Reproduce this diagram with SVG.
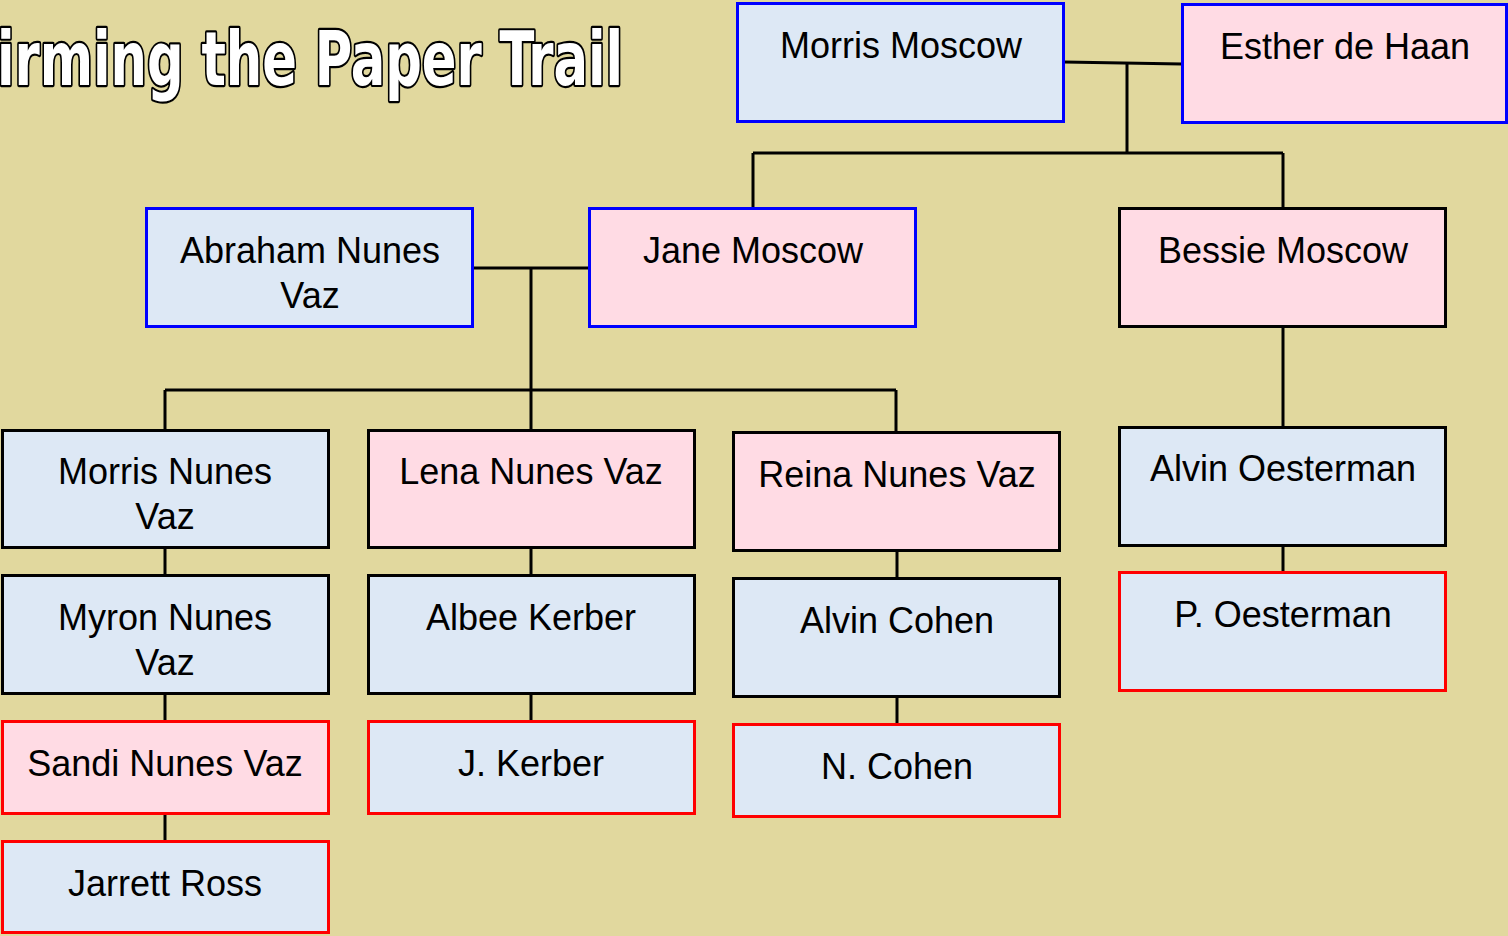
<svg xmlns="http://www.w3.org/2000/svg" width="1508" height="936" viewBox="0 0 1508 936">
<style>
.bg{fill:#e1d89e}
.n rect{stroke-width:3}
.m{fill:#dde8f5}
.f{fill:#ffdbe4}
.sb{stroke:#0000ff}
.sk{stroke:#000000}
.sr{stroke:#ff0000}
.n text{font-family:"Liberation Sans",Arial,sans-serif;font-size:36px;fill:#000;text-anchor:middle}
.c{stroke:#000;stroke-width:3;fill:none}
.title{font-family:"Liberation Sans Narrow","DejaVu Sans Condensed","Liberation Sans",sans-serif;font-weight:bold;font-size:70px;fill:#fff;stroke:#000;stroke-width:4;paint-order:stroke;stroke-linejoin:round}
</style>
<rect class="bg" x="0" y="0" width="1508" height="936"/>
<text class="title" x="-3" y="78.7" textLength="626" lengthAdjust="spacingAndGlyphs" transform="scale(1,1.08)">irming the Paper Trail</text>
<g id="connectors" class="c">
<path d="M1064 62 L1182 64"/>
<path d="M1127 63 V153 M753 153 H1283 M753 153 V208 M1283 153 V208"/>
<path d="M473 268 H589 M531 268 V430 M165 390 H896 M165 390 V430 M896 390 V432"/>
<path d="M1283 327 V427 M1283 546 V572"/>
<path d="M165 548 V575 M165 694 V721 M165 814 V841"/>
<path d="M531 548 V575 M531 694 V721"/>
<path d="M897 551 V578 M897 697 V724"/>
</g>
<g id="morris-moscow" class="n"><rect class="m sb" x="737.5" y="3.5" width="326" height="118"/><text x="901" y="58">Morris Moscow</text></g>
<g id="esther-de-haan" class="n"><rect class="f sb" x="1182.5" y="4.5" width="324" height="118"/><text x="1345" y="59">Esther de Haan</text></g>
<g id="abraham-nunes-vaz" class="n"><rect class="m sb" x="146.5" y="208.5" width="326" height="118"/><text x="310" y="263">Abraham Nunes</text><text x="310" y="308">Vaz</text></g>
<g id="jane-moscow" class="n"><rect class="f sb" x="589.5" y="208.5" width="326" height="118"/><text x="753" y="263">Jane Moscow</text></g>
<g id="bessie-moscow" class="n"><rect class="f sk" x="1119.5" y="208.5" width="326" height="118"/><text x="1283" y="263">Bessie Moscow</text></g>
<g id="morris-nunes-vaz" class="n"><rect class="m sk" x="2.5" y="430.5" width="326" height="117"/><text x="165" y="484">Morris Nunes</text><text x="165" y="529">Vaz</text></g>
<g id="lena-nunes-vaz" class="n"><rect class="f sk" x="368.5" y="430.5" width="326" height="117"/><text x="531" y="484">Lena Nunes Vaz</text></g>
<g id="reina-nunes-vaz" class="n"><rect class="f sk" x="733.5" y="432.5" width="326" height="118"/><text x="897" y="487">Reina Nunes Vaz</text></g>
<g id="alvin-oesterman" class="n"><rect class="m sk" x="1119.5" y="427.5" width="326" height="118"/><text x="1283" y="481">Alvin Oesterman</text></g>
<g id="myron-nunes-vaz" class="n"><rect class="m sk" x="2.5" y="575.5" width="326" height="118"/><text x="165" y="630">Myron Nunes</text><text x="165" y="675">Vaz</text></g>
<g id="albee-kerber" class="n"><rect class="m sk" x="368.5" y="575.5" width="326" height="118"/><text x="531" y="630">Albee Kerber</text></g>
<g id="alvin-cohen" class="n"><rect class="m sk" x="733.5" y="578.5" width="326" height="118"/><text x="897" y="633">Alvin Cohen</text></g>
<g id="p-oesterman" class="n"><rect class="m sr" x="1119.5" y="572.5" width="326" height="118"/><text x="1283" y="627">P. Oesterman</text></g>
<g id="sandi-nunes-vaz" class="n"><rect class="f sr" x="2.5" y="721.5" width="326" height="92"/><text x="165" y="776">Sandi Nunes Vaz</text></g>
<g id="j-kerber" class="n"><rect class="m sr" x="368.5" y="721.5" width="326" height="92"/><text x="531" y="776">J. Kerber</text></g>
<g id="n-cohen" class="n"><rect class="m sr" x="733.5" y="724.5" width="326" height="92"/><text x="897" y="779">N. Cohen</text></g>
<g id="jarrett-ross" class="n"><rect class="m sr" x="2.5" y="841.5" width="326" height="91"/><text x="165" y="896">Jarrett Ross</text></g>
</svg>
